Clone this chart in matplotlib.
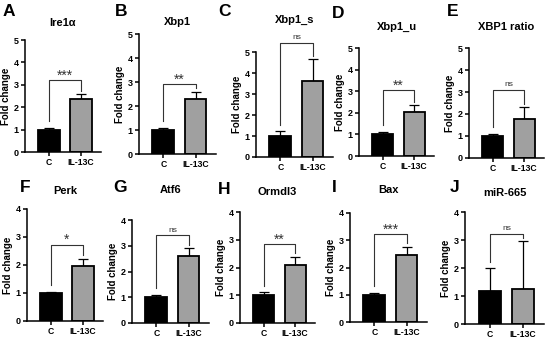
import matplotlib
matplotlib.use("Agg")
import matplotlib.pyplot as plt

plt.rcParams['font.family'] = ['Liberation Sans', 'DejaVu Sans']
plt.rcParams['font.weight'] = 'bold'

# panel data (fold change, mean and upper SEM)
letters = ['A', 'B', 'C', 'D', 'E', 'F', 'G', 'H', 'I', 'J']
titles = ['Ire1α', 'Xbp1', 'Xbp1_s', 'Xbp1_u', 'XBP1 ratio',
          'Perk', 'Atf6', 'Ormdl3', 'Bax', 'miR-665']
groups = ['C', 'IL-13C']
c_mean = [1.0, 1.0, 1.0, 1.0, 1.0, 1.0, 1.0, 1.0, 1.0, 1.19]
c_err = [0.07, 0.08, 0.22, 0.12, 0.1, 0.05, 0.1, 0.1, 0.07, 0.8]
il_mean = [2.38, 2.28, 3.6, 2.05, 1.75, 1.96, 2.6, 2.09, 2.46, 1.25]
il_err = [0.19, 0.3, 1.05, 0.32, 0.55, 0.26, 0.3, 0.3, 0.31, 1.71]
sig = ['***', '**', 'ns', '**', 'ns', '*', 'ns', '**', '***', 'ns']
bracket_y = [3.2, 2.9, 5.45, 3.05, 3.1, 2.73, 3.41, 2.84, 3.24, 3.22]
y_max = [5, 5, 5, 5, 5, 4, 4, 4, 4, 4]

# layout in pixels: axes box (left, right, top, bottom), letter and title spots
boxes = [(25, 101, 40, 152), (139, 216, 34, 154), (256, 333, 52, 157),
         (359, 434, 48, 156), (469, 544, 48, 158),
         (27, 103, 209, 321), (132, 209, 220, 323), (240, 315, 212, 323),
         (350, 427, 213, 322), (465, 544, 212, 324)]
letter_pos = [(3, 11), (115, 11), (218, 12), (332, 13), (447, 12),
              (20, 187), (113, 188), (218, 189), (332, 187), (450, 188)]
title_y = [23, 22, 20, 27, 27, 191, 190, 192, 190, 193]

W, H = 550, 338
fig = plt.figure(figsize=(W / 100, H / 100), dpi=100)

for i in range(len(titles)):
    l, r, t, b = boxes[i]
    ax = fig.add_axes([l / W, 1 - b / H, (r - l) / W, (b - t) / H])
    x = [0, 1]
    ax.bar(x, [c_mean[i], il_mean[i]], width=0.67,
           color=['black', '#a0a0a0'], edgecolor='black', linewidth=1.3, zorder=2)
    for xi, m, e in zip(x, [c_mean[i], il_mean[i]], [c_err[i], il_err[i]]):
        ax.errorbar(xi, m, yerr=[[0], [e]], fmt='none', ecolor='black',
                    elinewidth=0.9, capsize=3.6, capthick=0.9, zorder=1)
    ax.set_xlim(-0.75, 1.63)
    ax.set_ylim(0, y_max[i])
    ax.set_yticks(range(0, y_max[i] + 1))
    ax.set_xticks(x)
    ax.set_xticklabels(groups)
    for s in ['top', 'right']:
        ax.spines[s].set_visible(False)
    for s in ['left', 'bottom']:
        ax.spines[s].set_linewidth(1.1)
    ax.tick_params(axis='y', labelsize=6.5, width=1.1, length=3, pad=1.5)
    ax.tick_params(axis='x', labelsize=6.2, width=1.1, length=3, pad=1.5)
    ax.set_ylabel('Fold change', fontsize=7, fontweight='bold', labelpad=2)

    # significance bracket
    sc = y_max[i] / 5
    by = bracket_y[i]
    yl = c_mean[i] + c_err[i] + 0.3 * sc
    yr = il_mean[i] + il_err[i] + 0.15 * sc
    ax.plot([0, 0, 1, 1], [yl, by, by, yr], color='#333333', lw=0.8,
            clip_on=False, zorder=3)
    if sig[i] == 'ns':
        ax.text(0.5, by + 0.08 * sc, sig[i], ha='center', va='bottom',
                fontsize=6, fontweight='normal', color='#333333', clip_on=False)
    else:
        ax.text(0.5, by - 0.12 * sc, sig[i], ha='center', va='bottom',
                fontsize=10, fontweight='normal', color='#333333', clip_on=False)

    fig.text((l + r) / 2 / W, 1 - title_y[i] / H, titles[i], fontsize=8,
             fontweight='bold', ha='center', va='center')
    lx, ly = letter_pos[i]
    fig.text(lx / W, 1 - ly / H, letters[i], fontsize=12.5, fontweight='bold',
             ha='left', va='center')

fig.savefig('out.png', dpi=100)
